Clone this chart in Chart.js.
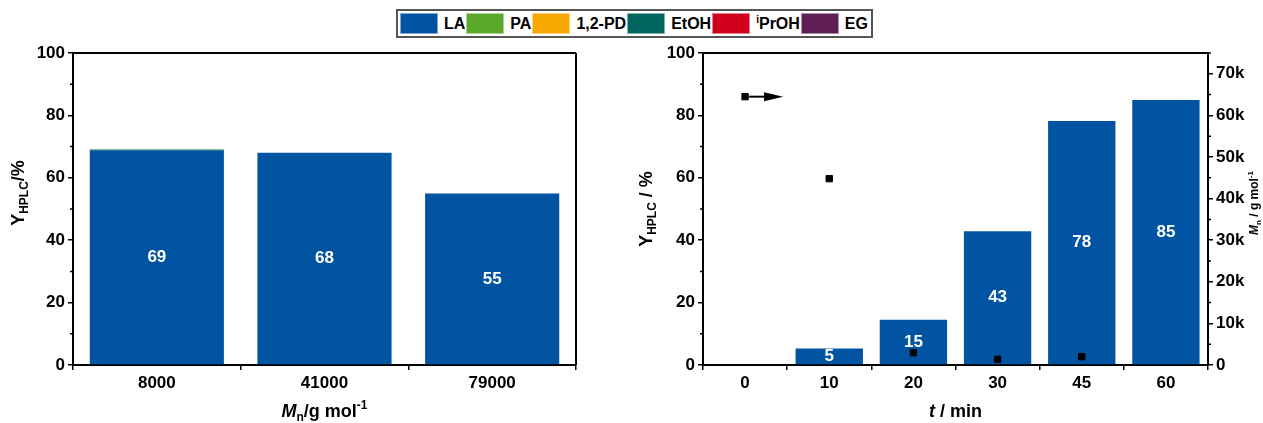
<!DOCTYPE html>
<html>
<head>
<meta charset="utf-8">
<script src="https://cdn.jsdelivr.net/npm/chart.js@4"></script>
<style>
  body { margin: 0; background: #fff; font-family: "Liberation Sans", Arial, sans-serif; }
  #wrap { position: relative; width: 1263px; height: 423px; overflow: hidden; }
  .box { position: absolute; top: 0; height: 423px; }
  #legend {
    position: absolute; left: 396px; top: 9px; height: 25px; padding: 0 2px;
    border: 2px solid #555; display: flex; align-items: center; background: #fff;
    font-weight: bold; font-size: 16px; z-index: 2;
  }
  #legend .sw { width: 38px; height: 21px; margin-right: 6px; box-sizing: border-box; border: 1px solid rgba(255,255,255,0.5); }
  #legend .it { display: flex; align-items: center; margin-right: 1px; }
  #legend sup { font-size: 10px; vertical-align: 6px; }
</style>
</head>
<body>
<div id="wrap">
  <div id="legend"></div>
  <div class="box" style="left:0;width:600px"><canvas id="leftChart"></canvas></div>
  <div class="box" style="left:600px;width:663px"><canvas id="rightChart"></canvas></div>
</div>
<script>
// Dados
const mnLabels = ["8000", "41000", "79000"];
const laByMn = [68.7, 68.0, 55.0];
const paByMn = [0, 0, 0];
const pdByMn = [0, 0, 0];
const etohByMn = [0.4, 0, 0];
const iproByMn = [0, 0, 0];
const egByMn = [0, 0, 0];

const timeLabels = ["0", "10", "20", "30", "45", "60"];
const laByTime = [0, 5.3, 14.5, 42.9, 78.2, 84.9];
const mnByTime = [64500, 44800, 2950, 1370, 2000, null];
const mnTicks = [0, 10000, 20000, 30000, 40000, 50000, 60000, 70000];

const seriesNames = ["LA", "PA", "1,2-PD", "EtOH", "iPrOH", "EG"];
const seriesColors = ["#0054a2", "#5ba92a", "#f6a800", "#00655f", "#d1001c", "#5f1f54"];

const FONT = '"Liberation Sans", Arial, sans-serif';
Chart.defaults.font.family = FONT;
Chart.defaults.color = "#000";

// Legenda em HTML
const legend = document.getElementById("legend");
seriesNames.forEach((name, i) => {
  const it = document.createElement("div");
  it.className = "it";
  const label = name === "iPrOH" ? "<sup>i</sup>PrOH" : name;
  it.innerHTML = `<div class="sw" style="background:${seriesColors[i]}"></div><span>${label}</span>`;
  legend.appendChild(it);
});

// Texto com subscrito / sobrescrito
function drawRich(ctx, parts, x, y, size, rot) {
  ctx.save();
  ctx.translate(x, y);
  ctx.rotate(rot || 0);
  const fontOf = (p) =>
    `${p.it ? "italic " : ""}bold ${p.sub || p.sup ? Math.round(size * 0.65) : size}px ${FONT}`;
  let w = 0;
  const widths = parts.map((p) => {
    ctx.font = fontOf(p);
    const pw = ctx.measureText(p.t).width;
    w += pw;
    return pw;
  });
  let cx = -w / 2;
  ctx.textBaseline = "middle";
  ctx.fillStyle = "#000";
  parts.forEach((p, i) => {
    ctx.font = fontOf(p);
    const dy = p.sub ? size * 0.3 : p.sup ? -size * 0.35 : 0;
    ctx.fillText(p.t, cx, dy);
    cx += widths[i];
  });
  ctx.restore();
}

const titlesPlugin = {
  id: "titles",
  afterDraw(chart, args, opts) {
    const a = chart.chartArea;
    (opts.items || []).forEach((t) => {
      const [x, y] = t.pos(a);
      drawRich(chart.ctx, t.parts, x, y, t.size, t.rot);
    });
  },
};

// Moldura e ticks menores
const framePlugin = {
  id: "frame",
  afterDraw(chart, args, opts) {
    const { ctx, chartArea: a, scales } = chart;
    ctx.save();
    ctx.strokeStyle = "#000";
    ctx.lineWidth = 2;
    ctx.beginPath();
    ctx.moveTo(a.left, a.top);
    ctx.lineTo(a.right, a.top);
    if (opts.right) {
      ctx.moveTo(a.right, a.top);
      ctx.lineTo(a.right, a.bottom);
    }
    ctx.stroke();
    ctx.lineWidth = 1.5;
    ctx.beginPath();
    (opts.minor || []).forEach((m) => {
      const s = scales[m.id];
      const left = s.position === "left";
      const x = left ? s.right : s.left;
      for (let v = m.from; v <= s.max; v += m.step) {
        const y = s.getPixelForValue(v);
        ctx.moveTo(x, y);
        ctx.lineTo(x + (left ? -3 : 3), y);
      }
    });
    ctx.stroke();
    ctx.restore();
  },
};

// Rótulos de valor no centro das barras
const valuePlugin = {
  id: "values",
  afterDatasetsDraw(chart) {
    const { ctx } = chart;
    const bars = chart.data.datasets
      .map((d, i) => ({ d, i }))
      .filter((o) => (o.d.type || chart.config.type) === "bar");
    const meta0 = chart.getDatasetMeta(bars[0].i);
    ctx.save();
    ctx.fillStyle = "#fff";
    ctx.font = `bold 17px ${FONT}`;
    ctx.textAlign = "center";
    ctx.textBaseline = "middle";
    meta0.data.forEach((el, idx) => {
      const total = bars.reduce((s, o) => s + (o.d.data[idx] || 0), 0);
      if (total < 1) return;
      ctx.fillText(String(Math.round(total)), el.x, (el.y + el.base) / 2);
    });
    ctx.restore();
  },
};

// Seta indicando o eixo da direita
const arrowPlugin = {
  id: "arrow",
  afterDatasetsDraw(chart, args, opts) {
    const meta = chart.getDatasetMeta(opts.dataset);
    const p = meta.data[0];
    if (!p) return;
    const { ctx } = chart;
    ctx.save();
    ctx.strokeStyle = "#000";
    ctx.fillStyle = "#000";
    ctx.lineWidth = 2;
    ctx.beginPath();
    ctx.moveTo(p.x + 4, p.y);
    ctx.lineTo(p.x + 24, p.y);
    ctx.stroke();
    ctx.beginPath();
    ctx.moveTo(p.x + 19, p.y - 4.5);
    ctx.lineTo(p.x + 38, p.y);
    ctx.lineTo(p.x + 19, p.y + 4.5);
    ctx.closePath();
    ctx.fill();
    ctx.restore();
  },
};

const tickFont = { size: 17, weight: "bold" };
const axisGrid = { drawOnChartArea: false, color: "#000", lineWidth: 1.5, tickLength: 5 };
const axisBorder = { display: true, color: "#000", width: 2 };

// Gráfico da esquerda: rendimento por Mn
new Chart(document.getElementById("leftChart"), {
  type: "bar",
  data: {
    labels: mnLabels,
    datasets: [laByMn, paByMn, pdByMn, etohByMn, iproByMn, egByMn].map((data, i) => ({
      label: seriesNames[i],
      data: data,
      backgroundColor: seriesColors[i],
      borderWidth: 0,
      categoryPercentage: 0.8,
      barPercentage: 1,
    })),
  },
  options: {
    responsive: true,
    maintainAspectRatio: false,
    animation: false,
    layout: { padding: { top: 53, right: 24, left: 0, bottom: 0 } },
    plugins: {
      legend: { display: false },
      tooltip: { enabled: false },
      frame: { right: true, minor: [{ id: "y", from: 10, step: 20 }] },
      titles: {
        items: [
          {
            parts: [{ t: "Y" }, { t: "HPLC", sub: true }, { t: "/%" }],
            size: 18,
            rot: -Math.PI / 2,
            pos: (a) => [a.left - 54, (a.top + a.bottom) / 2 - 16],
          },
          {
            parts: [{ t: "M", it: true }, { t: "n", sub: true }, { t: "/g mol" }, { t: "-1", sup: true }],
            size: 18,
            pos: (a) => [(a.left + a.right) / 2, a.bottom + 47],
          },
        ],
      },
    },
    scales: {
      x: {
        stacked: true,
        grid: axisGrid,
        border: axisBorder,
        ticks: { font: tickFont, padding: 3 },
        afterFit: (s) => { s.height = 58; },
      },
      y: {
        stacked: true,
        min: 0,
        max: 100,
        grid: axisGrid,
        border: axisBorder,
        ticks: { font: tickFont, stepSize: 20, padding: 3 },
        afterFit: (s) => { s.width = 73; },
      },
    },
  },
  plugins: [framePlugin, valuePlugin, titlesPlugin],
});

// Gráfico da direita: rendimento e Mn ao longo do tempo
new Chart(document.getElementById("rightChart"), {
  type: "bar",
  data: {
    labels: timeLabels,
    datasets: [
      {
        label: "LA",
        data: laByTime,
        backgroundColor: seriesColors[0],
        borderWidth: 0,
        categoryPercentage: 0.8,
        barPercentage: 1,
        yAxisID: "y",
        order: 1,
      },
      {
        type: "line",
        label: "Mn",
        data: mnByTime,
        showLine: false,
        pointStyle: "rect",
        pointRadius: 4.5,
        backgroundColor: "#000",
        borderColor: "#000",
        yAxisID: "y2",
        order: 0,
      },
    ],
  },
  options: {
    responsive: true,
    maintainAspectRatio: false,
    animation: false,
    layout: { padding: { top: 53, right: 0, left: 0, bottom: 0 } },
    plugins: {
      legend: { display: false },
      tooltip: { enabled: false },
      arrow: { dataset: 1 },
      frame: {
        right: false,
        minor: [
          { id: "y", from: 10, step: 20 },
          { id: "y2", from: 5000, step: 10000 },
        ],
      },
      titles: {
        items: [
          {
            parts: [{ t: "Y" }, { t: "HPLC", sub: true }, { t: " / %" }],
            size: 18,
            rot: -Math.PI / 2,
            pos: (a) => [a.left - 56, (a.top + a.bottom) / 2],
          },
          {
            parts: [{ t: "t", it: true }, { t: " / min" }],
            size: 18,
            pos: (a) => [(a.left + a.right) / 2, a.bottom + 47],
          },
          {
            parts: [{ t: "M", it: true }, { t: "n", sub: true }, { t: " / g mol" }, { t: "-1", sup: true }],
            size: 12,
            rot: -Math.PI / 2,
            pos: (a) => [a.right + 47, (a.top + a.bottom) / 2 - 6],
          },
        ],
      },
    },
    scales: {
      x: {
        grid: axisGrid,
        border: axisBorder,
        ticks: { font: tickFont, padding: 3 },
        afterFit: (s) => { s.height = 58; },
      },
      y: {
        position: "left",
        min: 0,
        max: 100,
        grid: axisGrid,
        border: axisBorder,
        ticks: { font: tickFont, stepSize: 20, padding: 3 },
        afterFit: (s) => { s.width = 103; },
      },
      y2: {
        position: "right",
        min: 0,
        max: 75000,
        grid: axisGrid,
        border: axisBorder,
        afterBuildTicks: (s) => { s.ticks = mnTicks.map((v) => ({ value: v })); },
        ticks: {
          font: tickFont,
          padding: 3,
          callback: (v) => (v === 0 ? "0" : v / 1000 + "k"),
        },
        afterFit: (s) => { s.width = 55; },
      },
    },
  },
  plugins: [framePlugin, valuePlugin, titlesPlugin, arrowPlugin],
});
</script>
</body>
</html>
